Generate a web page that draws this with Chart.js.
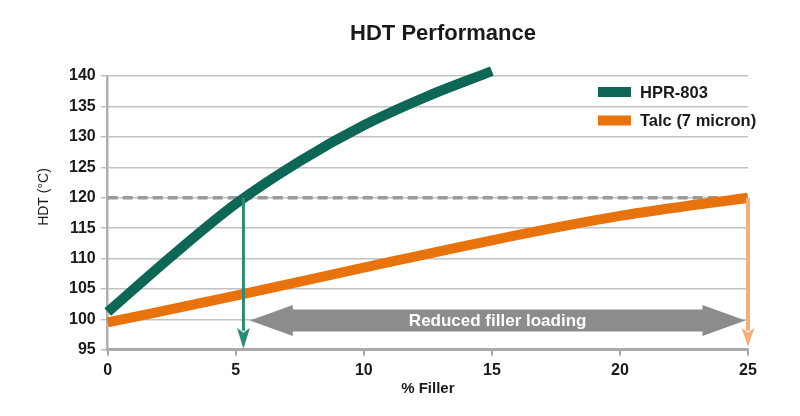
<!DOCTYPE html>
<html>
<head>
<meta charset="utf-8">
<script src="https://cdn.jsdelivr.net/npm/chart.js@4.4.0/dist/chart.umd.min.js"></script>
<style>
  html, body { margin: 0; padding: 0; background: #fff; }
  #wrap { width: 800px; height: 416px; position: relative; }
</style>
</head>
<body>
<div id="wrap"><canvas id="chart"></canvas></div>
<script>
// values
const hprFiller = [0, 2.5, 5, 7.5, 10, 12.5, 15];
const hprHdt = [101.2, 110.4, 119.0, 126.0, 131.9, 136.7, 140.8];
const talcFiller = [0, 5, 10, 15, 20, 25];
const talcHdt = [99.5, 103.9, 108.5, 113.0, 117.0, 120.0];
const targetFiller = [0, 25];
const targetHdt = 120;
const hprAtTarget = 5.3;
const talcAtTarget = 25;
const reducedRange = [5.55, 24.9];
const reducedLevel = 99.8;
const seriesNames = ["HPR-803", "Talc (7 micron)"];
const seriesColors = ["#0e6656", "#e8720c"];

const FONT = "'Liberation Sans', Arial, sans-serif";

function toPoints(xs, ys) {
    return xs.map(function (v, i) { return {x: v, y: ys[i]}; });
}

function downArrow(ctx, px, top, bottom, color, width, headW, headH) {
    ctx.save();
    ctx.strokeStyle = color;
    ctx.fillStyle = color;
    ctx.lineWidth = width;
    ctx.beginPath();
    ctx.moveTo(px, top);
    ctx.lineTo(px, bottom - headH + 3);
    ctx.stroke();
    ctx.beginPath();
    ctx.moveTo(px - headW / 2, bottom - headH);
    ctx.lineTo(px, bottom - headH + 5);
    ctx.lineTo(px + headW / 2, bottom - headH);
    ctx.lineTo(px, bottom);
    ctx.closePath();
    ctx.fill();
    ctx.restore();
}

const overlay = {
    id: "overlay",
    afterDatasetsDraw(chart) {
        const ctx = chart.ctx;
        const x = chart.scales.x, y = chart.scales.y;
        const yTarget = y.getPixelForValue(targetHdt);
        const yBase = y.getPixelForValue(y.min);

        // grey double arrow
        const left = x.getPixelForValue(reducedRange[0]);
        const right = x.getPixelForValue(reducedRange[1]);
        const cy = y.getPixelForValue(reducedLevel);
        const shaft = 11, head = 15.5, headLen = 43;
        ctx.save();
        ctx.fillStyle = "#8c8c8c";
        ctx.beginPath();
        ctx.moveTo(left, cy);
        ctx.lineTo(left + headLen, cy - head);
        ctx.lineTo(left + headLen, cy - shaft);
        ctx.lineTo(right - headLen, cy - shaft);
        ctx.lineTo(right - headLen, cy - head);
        ctx.lineTo(right, cy);
        ctx.lineTo(right - headLen, cy + head);
        ctx.lineTo(right - headLen, cy + shaft);
        ctx.lineTo(left + headLen, cy + shaft);
        ctx.lineTo(left + headLen, cy + head);
        ctx.closePath();
        ctx.fill();
        ctx.fillStyle = "#ffffff";
        ctx.font = "bold 17px " + FONT;
        ctx.textAlign = "center";
        ctx.textBaseline = "middle";
        ctx.fillText("Reduced filler loading", (left + right) / 2, cy + 1);
        ctx.restore();

        downArrow(ctx, x.getPixelForValue(hprAtTarget), yTarget, yBase - 1, "#2b8a78", 3, 13, 21);
        downArrow(ctx, x.getPixelForValue(talcAtTarget), yTarget, yBase - 3, "#f5b07a", 4, 13, 19);
    },
    afterDraw(chart) {
        const ctx = chart.ctx;
        const area = chart.chartArea;
        ctx.save();
        // title
        ctx.fillStyle = "#1a1a1a";
        ctx.font = "bold 22px " + FONT;
        ctx.textAlign = "center";
        ctx.textBaseline = "middle";
        ctx.fillText("HDT Performance", 443, 34);

        // y axis title
        ctx.save();
        ctx.translate(44, 197);
        ctx.rotate(-Math.PI / 2);
        ctx.font = "14px " + FONT;
        ctx.fillText("HDT (\u00b0C)", 0, 0);
        ctx.restore();

        // legend
        ctx.textAlign = "left";
        ctx.font = "bold 16.5px " + FONT;
        for (let i = 0; i < seriesNames.length; i++) {
            const ly = 92 + i * 28.5;
            ctx.fillStyle = seriesColors[i];
            ctx.fillRect(area.right - 150, ly - 5, 33, 10);
            ctx.fillStyle = "#1a1a1a";
            ctx.fillText(seriesNames[i], area.right - 108, ly + 1);
        }
        ctx.restore();
    }
};

const config = {
    type: "line",
    data: {
        datasets: [{
            label: seriesNames[0],
            data: toPoints(hprFiller, hprHdt),
            borderColor: seriesColors[0],
            borderWidth: 10,
            pointRadius: 0,
            cubicInterpolationMode: "monotone",
            clip: false,
            order: 1
        }, {
            label: seriesNames[1],
            data: toPoints(talcFiller, talcHdt),
            borderColor: seriesColors[1],
            borderWidth: 10,
            pointRadius: 0,
            cubicInterpolationMode: "monotone",
            clip: false,
            order: 2
        }, {
            label: "target",
            data: toPoints(targetFiller, targetFiller.map(function () { return targetHdt; })),
            borderColor: "#9a9a9a",
            borderWidth: 3.5,
            borderDash: [10, 5],
            pointRadius: 0,
            order: 3
        }]
    },
    options: {
        responsive: true,
        maintainAspectRatio: false,
        animation: false,
        devicePixelRatio: 1,
        layout: {padding: {left: 64, right: 52, top: 76, bottom: 18}},
        plugins: {
            legend: {display: false},
            tooltip: {enabled: false}
        },
        scales: {
            x: {
                type: "linear",
                min: 0,
                max: 25,
                ticks: {stepSize: 5, padding: 5, color: "#1a1a1a", font: {family: FONT, size: 16, weight: "bold"}},
                grid: {drawOnChartArea: false, tickLength: 6, color: "#aaaaaa", lineWidth: 2},
                border: {color: "#aaaaaa", width: 3},
                title: {display: true, text: "% Filler", color: "#1a1a1a", padding: {top: -5, bottom: 0},
                    font: {family: FONT, size: 15, weight: "bold"}}
            },
            y: {
                min: 95,
                max: 140,
                ticks: {stepSize: 5, padding: 5, color: "#1a1a1a", font: {family: FONT, size: 16, weight: "bold"}},
                grid: {color: "#c2c2c2", lineWidth: 1.5, tickLength: 7},
                border: {color: "#b0b0b0", width: 2.5}
            }
        }
    },
    plugins: [overlay]
};

new Chart(document.getElementById("chart").getContext("2d"), config);
</script>
</body>
</html>
